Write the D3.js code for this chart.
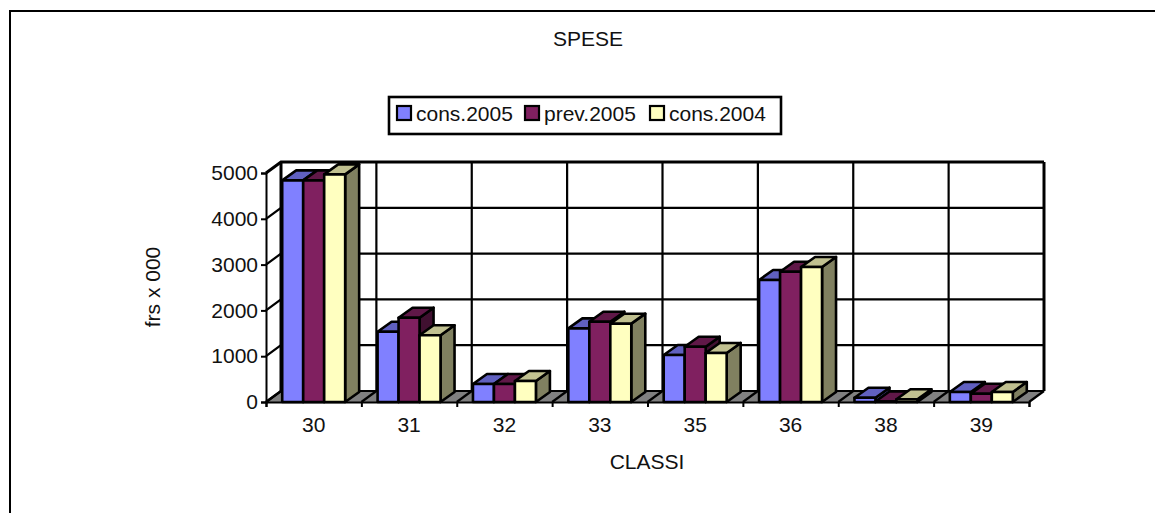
<!DOCTYPE html>
<html>
<head>
<meta charset="utf-8">
<title>SPESE</title>
<script src="https://d3js.org/d3.v7.min.js"></script>
<style>
  html, body { margin: 0; padding: 0; background: #fff; }
  svg { display: block; }
  text { font-family: "Liberation Sans", Arial, sans-serif; font-size: 21px; fill: #111; }
</style>
</head>
<body>
<svg id="chart" width="1155" height="513"></svg>
<script>
// valeurs
var classi = ["30", "31", "32", "33", "35", "36", "38", "39"];
var cons2005 = [4840, 1535, 393, 1608, 1026, 2664, 94, 218];
var prev2005 = [4840, 1840, 393, 1753, 1207, 2845, 10, 181];
var cons2004 = [4970, 1456, 458, 1710, 1070, 2948, 60, 218];
var yTicks = [0, 1000, 2000, 3000, 4000, 5000];

var seriesNames = ["cons.2005", "prev.2005", "cons.2004"];
var seriesValues = [cons2005, prev2005, cons2004];
var fronts = ["#8080ff", "#802060", "#ffffc0"];
var tops = ["#6060c0", "#601848", "#c0c090"];
var sides = ["#484890", "#401030", "#808060"];

var svg = d3.select("#chart");

// plan avant et profondeur de la fausse 3D
var x0 = 266, x1 = 1029, yBase = 402, yTop = 173;
var wallDx = 15, wallDy = 11, barDx = 14, barDy = 10;

var y = d3.scaleLinear().domain([0, 5000]).range([yBase, yTop]);
var xEdge = d3.scaleLinear().domain([0, classi.length]).range([x0, x1]);
var x = d3.scaleBand().domain(classi).range([x0, x1]).paddingInner(0.34).paddingOuter(0.17);
var xSerie = d3.scaleBand().domain(d3.range(seriesNames.length)).range([0, x.bandwidth()]);

// cadre extérieur, ouvert à droite et en bas
svg.append("path")
    .attr("d", "M10,513V11H1155")
    .attr("fill", "none").attr("stroke", "#000").attr("stroke-width", 2);

// paroi du fond
svg.append("rect")
    .attr("x", x0 + wallDx).attr("y", yTop - wallDy)
    .attr("width", x1 - x0).attr("height", yBase - yTop)
    .attr("fill", "#fff");

// sol
svg.append("path")
    .attr("d", "M" + x0 + "," + yBase + "L" + (x0 + wallDx) + "," + (yBase - wallDy) +
        "H" + (x1 + wallDx) + "L" + x1 + "," + yBase + "Z")
    .attr("fill", "#808080").attr("stroke", "none");

var grid = svg.append("g").attr("fill", "none").attr("stroke", "#000");

// lignes horizontales : paroi gauche puis fond
grid.selectAll("path.h")
    .data(yTicks)
    .enter().append("path")
    .attr("class", "h")
    .attr("stroke-width", function(d) { return d === 5000 ? 3 : 2.2; })
    .attr("d", function(d) {
        return "M" + x0 + "," + y(d) + "L" + (x0 + wallDx) + "," + (y(d) - wallDy) + "H" + (x1 + wallDx);
    });

// verticales du fond
grid.selectAll("line.v")
    .data(d3.range(classi.length + 1))
    .enter().append("line")
    .attr("class", "v")
    .attr("stroke-width", function(d) { return d === 0 || d === classi.length ? 3 : 2.2; })
    .attr("x1", function(d) { return xEdge(d) + wallDx; })
    .attr("x2", function(d) { return xEdge(d) + wallDx; })
    .attr("y1", yTop - wallDy)
    .attr("y2", yBase - wallDy);

// séparations du sol entre les classes
grid.selectAll("line.f")
    .data(d3.range(classi.length + 1))
    .enter().append("line")
    .attr("class", "f")
    .attr("stroke-width", 2.2)
    .attr("x1", function(d) { return xEdge(d); })
    .attr("x2", function(d) { return xEdge(d) + wallDx; })
    .attr("y1", yBase)
    .attr("y2", yBase - wallDy);

// axes
var axisY = svg.append("g")
    .attr("transform", "translate(" + x0 + ",0)")
    .call(d3.axisLeft(y).tickValues(yTicks).tickSize(5).tickPadding(3).tickFormat(d3.format("d")));
var axisEdge = svg.append("g")
    .attr("transform", "translate(0," + yBase + ")")
    .call(d3.axisBottom(xEdge).ticks(classi.length).tickSize(5).tickFormat(""));
var axisX = svg.append("g")
    .attr("transform", "translate(0," + yBase + ")")
    .call(d3.axisBottom(x).tickSize(0).tickPadding(15));
axisX.select(".domain").remove();
[axisY, axisEdge].forEach(function(a) {
    a.selectAll("path, line").attr("stroke", "#000").attr("stroke-width", 2);
});
svg.selectAll(".tick text").attr("font-family", null).attr("font-size", null);

// barres : une classe après l'autre, de gauche à droite
classi.forEach(function(c, i) {
    var g = svg.append("g")
        .attr("transform", "translate(" + x(c) + ",0)")
        .attr("stroke", "#000").attr("stroke-width", 2.6).attr("stroke-linejoin", "round");
    seriesValues.forEach(function(values, s) {
        var v = values[i], bx = xSerie(s), w = xSerie.bandwidth(), by = y(v);
        // flanc
        g.append("path")
            .attr("d", "M" + (bx + w) + "," + by + "l" + barDx + "," + (-barDy) +
                "V" + (yBase - barDy) + "L" + (bx + w) + "," + yBase + "Z")
            .attr("fill", sides[s]);
        // dessus
        g.append("path")
            .attr("d", "M" + bx + "," + by + "l" + barDx + "," + (-barDy) + "h" + w +
                "l" + (-barDx) + "," + barDy + "Z")
            .attr("fill", tops[s]);
        // face avant
        g.append("rect")
            .attr("x", bx).attr("y", by)
            .attr("width", w).attr("height", yBase - by)
            .attr("fill", fronts[s]);
    });
});

// titres
svg.append("text").attr("x", 588).attr("y", 46).attr("text-anchor", "middle").text("SPESE");
svg.append("text").attr("x", 647).attr("y", 469).attr("text-anchor", "middle").text("CLASSI");
svg.append("text")
    .attr("transform", "translate(160,287) rotate(-90)")
    .attr("text-anchor", "middle")
    .text("frs x 000");

// légende
var legend = svg.append("g");
legend.append("rect")
    .attr("x", 389).attr("y", 97).attr("width", 392).attr("height", 37)
    .attr("fill", "#fff").attr("stroke", "#000").attr("stroke-width", 2.6);
var legendX = [397, 525, 650];
var legendItem = legend.selectAll("g.item")
    .data(seriesNames)
    .enter().append("g")
    .attr("class", "item")
    .attr("transform", function(d, i) { return "translate(" + legendX[i] + ",106)"; });
legendItem.append("rect")
    .attr("width", 14).attr("height", 14)
    .attr("fill", function(d, i) { return fronts[i]; })
    .attr("stroke", "#000").attr("stroke-width", 2.2);
legendItem.append("text")
    .attr("x", 19).attr("y", 15)
    .text(function(d) { return d; });
</script>
</body>
</html>
